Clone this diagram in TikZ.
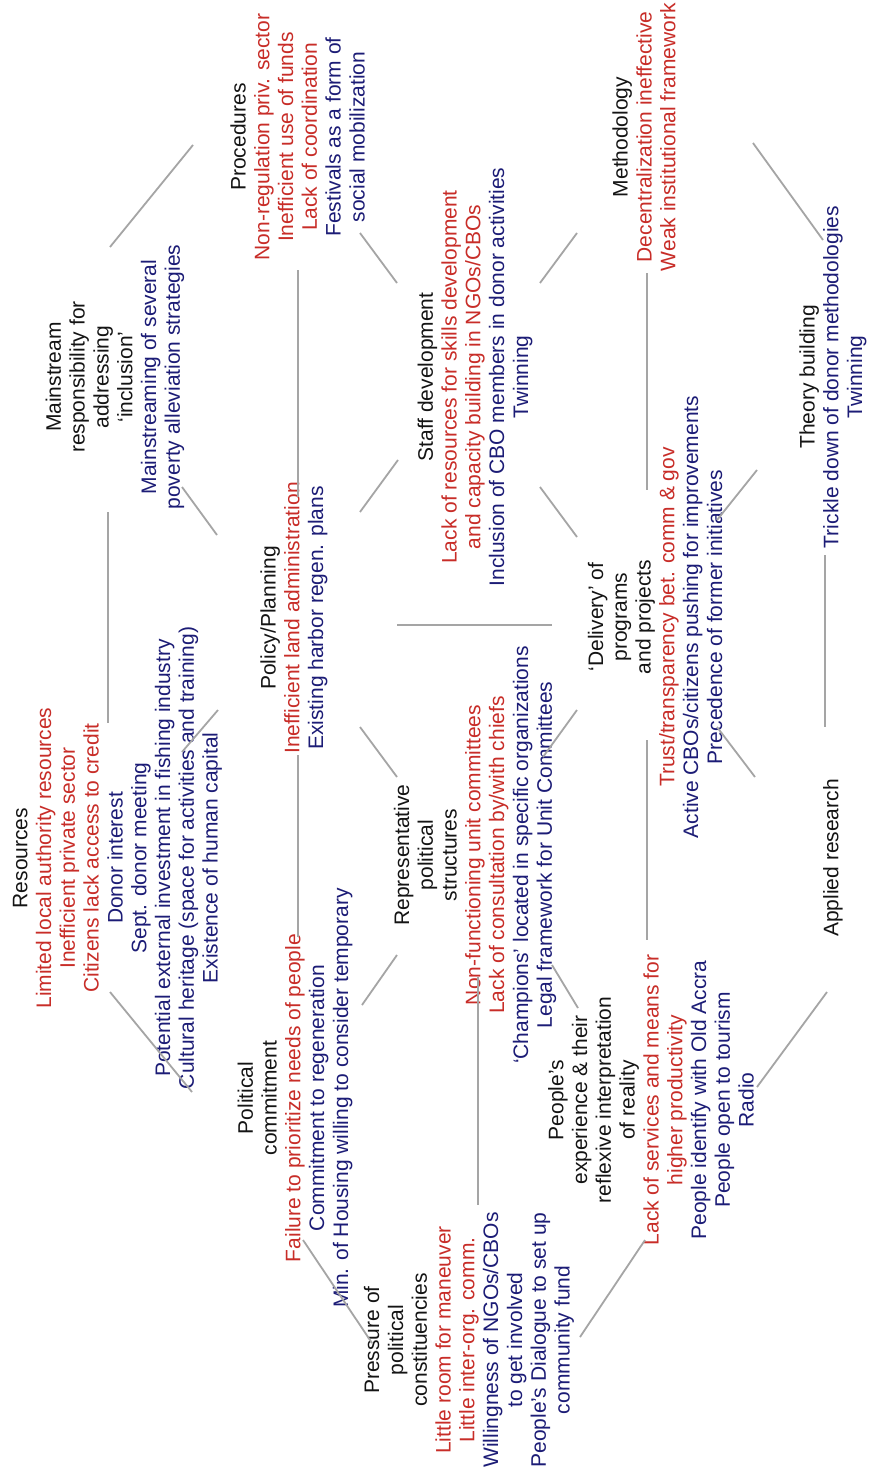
\documentclass[tikz,border=0pt]{standalone}
\usepackage{fontspec}
\setmainfont{Liberation Sans}
\usetikzlibrary{calc}
\definecolor{tred}{RGB}{200,45,40}
\definecolor{tblue}{RGB}{28,28,118}
\definecolor{tlink}{RGB}{165,165,165}
\definecolor{ttitle}{RGB}{20,20,20}
\newcommand{\redtxt}[1]{\textcolor{tred}{#1}}
\newcommand{\bluetxt}[1]{\textcolor{tblue}{#1}}
\begin{document}
\begin{tikzpicture}[x=1pt,y=-1pt,
  box/.style={rotate=90,align=center,inner sep=0pt,
    font=\fontsize{21}{23.8}\selectfont,text=ttitle},
  link/.style={draw=tlink,line width=1.8pt}]
\useasboundingbox (0,0) rectangle (868,1471);
\fill[white] (0,0) rectangle (868,1471);

% ---- concept blocks (text runs bottom to top) ----
\node[box] (pr) at (297.5,137) {Procedures\\
  \redtxt{Non-regulation priv. sector}\\
  \redtxt{Inefficient use of funds}\\
  \redtxt{Lack of coordination}\\
  \bluetxt{Festivals as a form of}\\
  \bluetxt{social mobilization}};

\node[box] (mt) at (644,137) {Methodology\\
  \redtxt{Decentralization ineffective}\\
  \redtxt{Weak institutional framework}};

\node[box] (ms) at (115,377) {Mainstream\\
  responsibility for\\
  addressing\\
  `inclusion'\\
  \bluetxt{Mainstreaming of several}\\
  \bluetxt{poverty alleviation strategies}};

\node[box] (sd) at (475,377) {Staff development\\
  \redtxt{Lack of resources for skills development}\\
  \redtxt{and capacity building in NGOs/CBOs}\\
  \bluetxt{Inclusion of CBO members in donor activities}\\
  \bluetxt{Twinning}};

\node[box] (tb) at (833,377) {Theory building\\
  \bluetxt{Trickle down of donor methodologies}\\
  \bluetxt{Twinning}};

\node[box] (pp) at (294,618) {Policy/Planning\\
  \redtxt{Inefficient land administration}\\
  \bluetxt{Existing harbor regen. plans}};

\node[box] (dl) at (655,617) {`Delivery' of\\
  programs\\
  and projects\\
  \redtxt{Trust/transparency bet. comm \& gov}\\
  \bluetxt{Active CBOs/citizens pushing for improvements}\\
  \bluetxt{Precedence of former initiatives}};

\node[box] (rs) at (117.5,858) {Resources\\
  \redtxt{Limited local authority resources}\\
  \redtxt{Inefficient private sector}\\
  \redtxt{Citizens lack access to credit}\\
  \bluetxt{Donor interest}\\
  \bluetxt{Sept. donor meeting}\\
  \bluetxt{Potential external investment in fishing industry}\\
  \bluetxt{Cultural heritage (space for activities and training)}\\
  \bluetxt{Existence of human capital}};

\node[box] (rp) at (475,855) {Representative\\
  political\\
  structures\\
  \redtxt{Non-functioning unit committees}\\
  \redtxt{Lack of consultation by/with chiefs}\\
  \bluetxt{`Champions' located in specific organizations}\\
  \bluetxt{Legal framework for Unit Committees}};

\node[box] (ar) at (833,858) {Applied research};

\node[box] (pc) at (295,1098) {Political\\
  commitment\\
  \redtxt{Failure to prioritize needs of people}\\
  \bluetxt{Commitment to regeneration}\\
  \bluetxt{Min. of Housing willing to consider temporary}};

\node[box] (pe) at (651,1100) {People's\\
  experience \& their\\
  reflexive interpretation\\
  of reality\\
  \redtxt{Lack of services and means for}\\
  \redtxt{higher productivity}\\
  \bluetxt{People identify with Old Accra}\\
  \bluetxt{People open to tourism}\\
  \bluetxt{Radio}};

\node[box] (ps) at (469,1340) {Pressure of\\
  political\\
  constituencies\\
  \redtxt{Little room for maneuver}\\
  \redtxt{Little inter-org. comm.}\\
  \bluetxt{Willingness of NGOs/CBOs}\\
  \bluetxt{to get involved}\\
  \bluetxt{People's Dialogue to set up}\\
  \bluetxt{community fund}};

% ---- links between blocks ----
\draw[link] ($(ms)+(-5,-130)$) -- ($(pr)+(-104.5,8)$);
\draw[link] ($(ms)+(-7,135)$) -- ($(rs)+(-9.5,-135)$);
\draw[link] ($(rs)+(64.5,-106)$) -- ($(pp)+(-76,92)$);
\draw[link] ($(ms)+(67,110)$) -- ($(pp)+(-77,-83)$);
\draw[link] ($(rs)+(-7.5,134)$) -- ($(pc)+(-103,-6)$);
\draw[link] ($(pr)+(0.5,133)$) -- ($(pp)+(4,-121)$);
\draw[link] ($(pp)+(4,137)$) -- ($(pc)+(3,-161)$);
\draw[link] ($(pr)+(62.5,96)$) -- ($(sd)+(-78,-94)$);
\draw[link] ($(sd)+(65,-94)$) -- ($(mt)+(-67,96)$);
\draw[link] ($(pp)+(66,-106)$) -- ($(sd)+(-77,83)$);
\draw[link] ($(sd)+(65,110)$) -- ($(dl)+(-78,-80)$);
\draw[link] ($(pp)+(66,109)$) -- ($(rp)+(-78,-78)$);
\draw[link] ($(pc)+(67,-93)$) -- ($(rp)+(-78,100)$);
\draw[link] ($(pc)+(8,142)$) -- ($(ps)+(-97,3)$);
\draw[link] ($(rp)+(3,122)$) -- ($(ps)+(9,-135)$);
\draw[link] ($(rp)+(77,110)$) -- ($(pe)+(-73,-92)$);
\draw[link] ($(rp)+(68,-98)$) -- ($(dl)+(-78,93)$);
\draw[link] ($(pp)+(103,7)$) -- ($(dl)+(-103,8)$);
\draw[link] ($(pe)+(-6,140)$) -- ($(ps)+(111,-3)$);
\draw[link] ($(pe)+(106,-13)$) -- ($(ar)+(-6,134)$);
\draw[link] ($(dl)+(-8,123)$) -- ($(pe)+(-4,-160)$);
\draw[link] ($(dl)+(62,110)$) -- ($(ar)+(-78,-81)$);
\draw[link] ($(mt)+(3,136)$) -- ($(dl)+(-8,-127)$);
\draw[link] ($(dl)+(62,-97)$) -- ($(tb)+(-76,93)$);
\draw[link] ($(mt)+(109,6)$) -- ($(tb)+(-10,-137)$);
\draw[link] ($(tb)+(-8,178)$) -- ($(ar)+(-8,-131)$);
\end{tikzpicture}
\end{document}
